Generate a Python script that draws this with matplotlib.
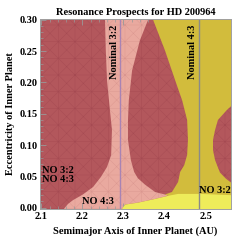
import numpy as np
import matplotlib
matplotlib.use('Agg')
import matplotlib.pyplot as plt
from matplotlib.ticker import MultipleLocator

plt.rcParams['font.family'] = ['Liberation Serif', 'DejaVu Serif']
plt.rcParams['font.weight'] = 'bold'
plt.rcParams['hatch.linewidth'] = 0.3

# region boundaries (semimajor axis in AU, eccentricity)
pink_a = [2.255, 2.360, 2.340, 2.321, 2.313, 2.311, 2.311, 2.318, 2.326, 2.335,
          2.352, 2.377, 2.401, 2.409, 2.377, 2.335, 2.304, 2.287, 2.145, 2.165,
          2.177, 2.201, 2.226, 2.245, 2.260, 2.270, 2.272, 2.267, 2.260, 2.257]
pink_e = [0.300, 0.300, 0.267, 0.219, 0.171, 0.140, 0.108, 0.076, 0.057, 0.047,
          0.037, 0.025, 0.021, 0.019, 0.014, 0.008, 0.005, -0.01, -0.01, 0.006,
          0.012, 0.021, 0.033, 0.049, 0.065, 0.084, 0.124, 0.156, 0.203, 0.251]

olive_a = [2.372, 2.401, 2.426, 2.443, 2.455, 2.457, 2.455, 2.448, 2.438, 2.433,
           2.418, 2.401, 2.409, 2.409, 2.60, 2.60]
olive_e = [0.300, 0.251, 0.203, 0.171, 0.140, 0.108, 0.084, 0.068, 0.057, 0.041,
           0.025, 0.021, 0.019, -0.01, -0.01, 0.310]

blob_a = [2.60, 2.562, 2.552, 2.530, 2.523, 2.518, 2.518, 2.523, 2.535, 2.550, 2.562, 2.60]
blob_e = [0.165, 0.162, 0.156, 0.140, 0.124, 0.108, 0.092, 0.076, 0.056, 0.046, 0.040, 0.038]

yellow_a = [2.287, 2.304, 2.335, 2.377, 2.409, 2.433, 2.487, 2.562, 2.60, 2.60]
yellow_e = [-0.01, 0.005, 0.008, 0.014, 0.019, 0.022, 0.022, 0.020, 0.020, -0.01]

nominal_32 = 2.292
nominal_43 = 2.483

red = '#B3575C'
pink = '#E9A99F'
olive = '#D2BC3C'
yellow = '#EEEC5A'
mesh_red = (0.55, 0.2, 0.25, 0.35)
mesh_pink = (0.75, 0.45, 0.45, 0.35)

fig = plt.figure(figsize=(2.49, 2.41), dpi=100)
ax = fig.add_axes([0.161, 0.133, 0.767, 0.788])

ax.axvspan(2.0, 2.7, facecolor=red, edgecolor=mesh_red, hatch='xx+', lw=0, zorder=0)
ax.fill(pink_a, pink_e, facecolor=pink, edgecolor=mesh_pink, hatch='xx+', lw=0, zorder=1)
ax.fill(olive_a, olive_e, facecolor=olive, lw=0, zorder=2)
ax.fill(blob_a, blob_e, facecolor=red, edgecolor=mesh_red, hatch='xx+', lw=0, zorder=3)
ax.fill(yellow_a, yellow_e, facecolor=yellow, lw=0, zorder=4)

ax.axvline(nominal_32, color='#A883B4', lw=1, zorder=5)
ax.axvline(nominal_43, color='#8A8A8A', lw=1, zorder=5)

fs = 7.5
ax.text(nominal_32 - 0.003, 0.248, 'Nominal 3:2', rotation=90, ha='right', va='center', fontsize=fs, zorder=6)
ax.text(nominal_43 - 0.003, 0.248, 'Nominal 4:3', rotation=90, ha='right', va='center', fontsize=fs, zorder=6)
ax.text(2.102, 0.052, 'NO 3:2\nNO 4:3', ha='left', va='center', fontsize=fs, linespacing=0.95, zorder=6)
ax.text(2.200, 0.010, 'NO 4:3', ha='left', va='center', fontsize=fs, zorder=6)
ax.text(2.485, 0.028, 'NO 3:2', ha='left', va='center', fontsize=fs, zorder=6)

ax.set_xlim(2.097, 2.562)
ax.set_ylim(-0.002, 0.301)
ax.xaxis.set_major_locator(MultipleLocator(0.1))
ax.xaxis.set_minor_locator(MultipleLocator(0.02))
ax.yaxis.set_major_locator(MultipleLocator(0.05))
ax.yaxis.set_minor_locator(MultipleLocator(0.01))
ax.xaxis.set_major_formatter(plt.FuncFormatter(lambda v, p: '%.1f' % v))
ax.yaxis.set_major_formatter(plt.FuncFormatter(lambda v, p: '%.2f' % v))
ax.tick_params(which='both', direction='in', top=True, right=True, color='#999999',
               labelsize=fs, pad=2)
ax.tick_params(which='major', length=4, width=0.6)
ax.tick_params(which='minor', length=2, width=0.5)
for s in ax.spines.values():
    s.set_color('#A0A0A0')
    s.set_linewidth(0.7)
    s.set_zorder(7)

ax.set_title('Resonance Prospects for HD 200964', fontsize=fs, fontweight='bold', pad=3)
ax.set_xlabel('Semimajor Axis of Inner Planet (AU)', fontsize=fs, fontweight='bold', labelpad=4)
ax.set_ylabel('Eccentricity of Inner Planet', fontsize=fs, fontweight='bold', labelpad=3)

fig.savefig('out.png', dpi=100)
